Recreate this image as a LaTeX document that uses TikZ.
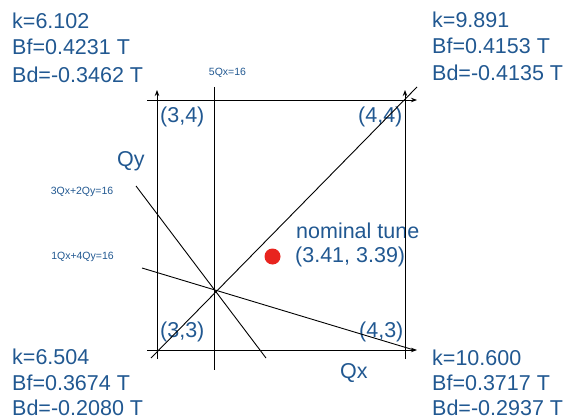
\documentclass[tikz,border=0pt]{standalone}
\usepackage{fontspec}
\setmainfont{Liberation Sans}
\usetikzlibrary{arrows.meta}
\definecolor{txtblue}{RGB}{33,88,145}
\definecolor{dotred}{RGB}{232,36,30}
\begin{document}
\begin{tikzpicture}[x=1pt,y=-1pt,
  big/.style={font=\fontsize{21.5}{26}\selectfont, text=txtblue, inner sep=0pt, anchor=base west},
  small/.style={font=\fontsize{10.5}{12}\selectfont, text=txtblue, inner sep=0pt},
  ln/.style={line width=0.9pt, black},
  arr/.style={ln, -{Stealth[length=6pt,width=4.5pt]}}]
\useasboundingbox (0,0) rectangle (565,420);
% parameter blocks
\node[big] (tlk) at (12,29) {k=6.102};
\node[big] (tlf) at (12,55) {Bf=0.4231 T};
\node[big] (tld) at (12,82) {Bd=-0.3462 T};
\node[big] (trk) at (432,28) {k=9.891};
\node[big] (trf) at (432,54) {Bf=0.4153 T};
\node[big] (trd) at (432,81) {Bd=-0.4135 T};
\node[big] (blk) at (12,364) {k=6.504};
\node[big] (blf) at (12,390) {Bf=0.3674 T};
\node[big] (bld) at (12,415.5) {Bd=-0.2080 T};
\node[big] (brk) at (432,365) {k=10.600};
\node[big] (brf) at (432,390) {Bf=0.3717 T};
\node[big] (brd) at (432,415.5) {Bd=-0.2937 T};
% corner labels
\node[big] (c34) at (160,122.5) {(3,4)};
\node[big] (c44) at (358,122.5) {(4,4)};
\node[big] (c33) at (160,337) {(3,3)};
\node[big] (c43) at (359,337) {(4,3)};
\node[big] (qy) at (117,166) {Qy};
\node[big] (qx) at (340,378) {Qx};
\node[big] (nom) at (296,238) {nominal tune};
\node[big] (val) at (295,262) {(3.41, 3.39)};
\fill[dotred] (272.5,256.5) circle (8);
% resonance labels
\node[small] (l5) at (227.5,72.5) {5Qx=16};
\node[small] (l32) at (82,191.5) {3Qx+2Qy=16};
\node[small] (l14) at (82.5,257) {1Qx+4Qy=16};
% endpoints
\coordinate (tA) at (147,100); \coordinate (tB) at (417,100);
\coordinate (bA) at (147,350); \coordinate (bB) at (417,350);
\coordinate (lA) at (157,359); \coordinate (lB) at (157,90);
\coordinate (rA) at (405,359); \coordinate (rB) at (405,90);
\coordinate (fA) at (214.5,87); \coordinate (fB) at (214.5,370);
\coordinate (dA) at (151,358); \coordinate (dB) at (417,87);
\coordinate (sA) at (136,186); \coordinate (sB) at (266,358);
\coordinate (oA) at (142,268); \coordinate (oB) at (414,350);
% axes
\draw[arr] (tA) -- (tB);
\draw[arr] (bA) -- (bB);
\draw[arr] (lA) -- (lB);
\draw[arr] (rA) -- (rB);
% resonance lines
\draw[ln] (fA) -- (fB);
\draw[ln] (dA) -- (dB);
\draw[ln] (sA) -- (sB);
\draw[ln] (oA) -- (oB);
\end{tikzpicture}
\end{document}
